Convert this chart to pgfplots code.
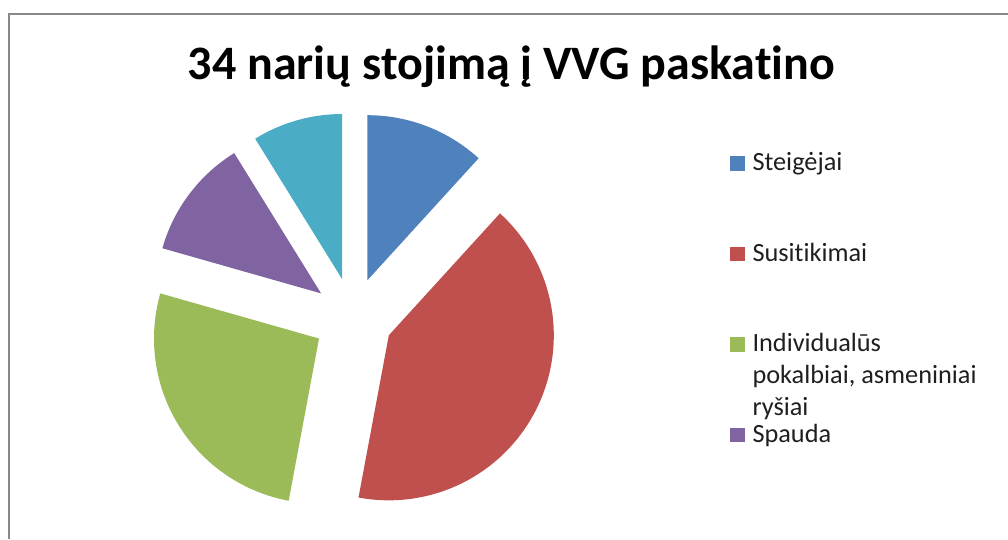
\documentclass[border=0pt]{standalone}
\usepackage{fontspec}
\setmainfont{Carlito}[Ligatures=CommonOff]
\usepackage{pgfplots}
\pgfplotsset{compat=1.18}
\definecolor{pieblue}{HTML}{4F81BD}
\definecolor{piered}{HTML}{C0504D}
\definecolor{piegreen}{HTML}{9BBB59}
\definecolor{piepurple}{HTML}{8064A2}
\definecolor{pieteal}{HTML}{4BACC6}
\definecolor{framegray}{HTML}{888888}
\begin{document}
\begin{tikzpicture}
% data: number of members per reason
\def\vA{4}\def\vB{14}\def\vC{9}\def\vD{4}\def\vE{3}
% geometry (pt = px)
\def\R{165}\def\cx{353}\def\cy{221.5}\def\ex{40}
\pgfmathsetmacro\tot{\vA+\vB+\vC+\vD+\vE}
\pgfmathsetmacro\aA{0}
\pgfmathsetmacro\bA{\aA+360*\vA/\tot}
\pgfmathsetmacro\bB{\bA+360*\vB/\tot}
\pgfmathsetmacro\bC{\bB+360*\vC/\tot}
\pgfmathsetmacro\bD{\bC+360*\vD/\tot}
\pgfmathsetmacro\bE{\bD+360*\vE/\tot}
\pgfmathsetmacro\mA{(\aA+\bA)/2}
\pgfmathsetmacro\mB{(\bA+\bB)/2}
\pgfmathsetmacro\mC{(\bB+\bC)/2}
\pgfmathsetmacro\mD{(\bC+\bD)/2}
\pgfmathsetmacro\mE{(\bD+\bE)/2}
\pgfmathsetmacro\txA{\cx+\ex*sin(\mA)}\pgfmathsetmacro\tyA{\cy+\ex*cos(\mA)}
\pgfmathsetmacro\txB{\cx+\ex*sin(\mB)}\pgfmathsetmacro\tyB{\cy+\ex*cos(\mB)}
\pgfmathsetmacro\txC{\cx+\ex*sin(\mC)}\pgfmathsetmacro\tyC{\cy+\ex*cos(\mC)}
\pgfmathsetmacro\txD{\cx+\ex*sin(\mD)}\pgfmathsetmacro\tyD{\cy+\ex*cos(\mD)}
\pgfmathsetmacro\txE{\cx+\ex*sin(\mE)}\pgfmathsetmacro\tyE{\cy+\ex*cos(\mE)}
\begin{axis}[
  at={(0,0)}, anchor=south west,
  width=1008pt, height=539pt, scale only axis,
  xmin=0, xmax=1008, ymin=0, ymax=539,
  hide axis, clip=false,
  legend style={at={(axis description cs:0.72421,0.70965)}, anchor=north west,
    draw=none, fill=none, inner sep=0pt, outer sep=0pt,
    row sep=74.5pt, column sep=8pt,
    font=\fontsize{26.3}{31.5}\selectfont, text=black!88,
    nodes={inner sep=0pt, outer sep=0pt, anchor=base west}},
  legend image code/.code={\fill[#1] (0pt,0pt) rectangle (14.5pt,14.5pt);},
]
\addplot[draw=none, fill=pieblue, domain=\aA:\bA, samples=60]
  ({\txA+\R*sin(x)}, {\tyA+\R*cos(x)}) -- (axis cs:\txA,\tyA) -- cycle;
\addlegendentry{\smash{Steigėjai}}
\addplot[draw=none, fill=piered, domain=\bA:\bB, samples=120]
  ({\txB+\R*sin(x)}, {\tyB+\R*cos(x)}) -- (axis cs:\txB,\tyB) -- cycle;
\addlegendentry{\smash{Susitikimai}}
\addplot[draw=none, fill=piegreen, domain=\bB:\bC, samples=90]
  ({\txC+\R*sin(x)}, {\tyC+\R*cos(x)}) -- (axis cs:\txC,\tyC) -- cycle;
\addlegendentry{\smash{\parbox[t]{255pt}{\raggedright Individualūs\\pokalbiai, asmeniniai\\ryšiai}}}
\addplot[draw=none, fill=piepurple, domain=\bC:\bD, samples=60]
  ({\txD+\R*sin(x)}, {\tyD+\R*cos(x)}) -- (axis cs:\txD,\tyD) -- cycle;
\addlegendentry{\smash{Spauda}}
\addplot[draw=none, fill=pieteal, domain=\bD:\bE, samples=50, forget plot]
  ({\txE+\R*sin(x)}, {\tyE+\R*cos(x)}) -- (axis cs:\txE,\tyE) -- cycle;
\draw[framegray, line width=2pt] (axis cs:9,0) -- (axis cs:9,525.3) -- (axis cs:1008,525.3);
\node[anchor=base, inner sep=0pt, font=\fontsize{48}{58}\selectfont\bfseries] at (axis cs:511.5,459) {34 narių stojimą į VVG paskatino};
\end{axis}
\pgfresetboundingbox
\path (0,0) rectangle (1008pt,539pt);
\end{tikzpicture}
\end{document}
